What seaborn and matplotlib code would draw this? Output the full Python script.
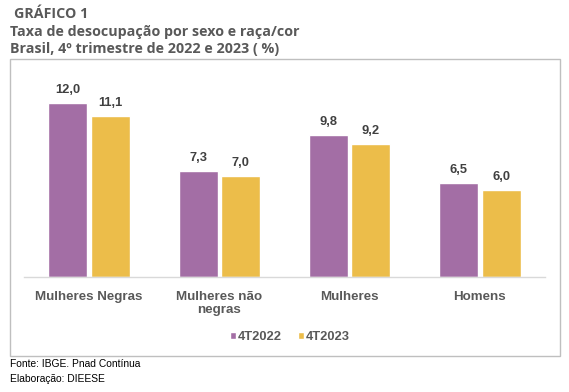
import pandas as pd
import matplotlib
matplotlib.use('Agg')
import matplotlib.pyplot as plt
import seaborn as sns
from matplotlib.patches import Rectangle, Patch

sns.set_theme(style='white')
plt.rcParams['font.family'] = ['Liberation Sans', 'DejaVu Sans']

# data
categorias = ['Mulheres Negras', 'Mulheres não\nnegras', 'Mulheres', 'Homens']
taxa_2022 = [12.0, 7.3, 9.8, 6.5]
taxa_2023 = [11.1, 7.0, 9.2, 6.0]
periodos = ['4T2022', '4T2023']
cores = ['#A36EA5', '#ECBD4A']

df = pd.DataFrame({
    'categoria': categorias * 2,
    'periodo': [periodos[0]] * 4 + [periodos[1]] * 4,
    'taxa': taxa_2022 + taxa_2023,
})

fig = plt.figure(figsize=(5.69, 3.92), dpi=100)
ax = fig.add_axes([24 / 569, 1 - 277 / 392, 521 / 569, 203 / 392])

sns.barplot(data=df, x='categoria', y='taxa', hue='periodo', palette=cores,
            saturation=1, width=0.65, gap=0.08, ax=ax, legend=False)

for cont in ax.containers:
    ax.bar_label(cont, labels=[f'{v:.1f}'.replace('.', ',') for v in cont.datavalues],
                 padding=5, fontsize=9.3, fontweight='bold', color='#404040')

ax.set_ylim(0, 14)
ax.set_xlim(-0.5, 3.5)
ax.set_yticks([])
ax.set_xlabel('')
ax.set_ylabel('')
for s in ['top', 'left', 'right']:
    ax.spines[s].set_visible(False)
ax.spines['bottom'].set_color('#D9D9D9')
ax.spines['bottom'].set_linewidth(1)
ax.tick_params(axis='x', length=0, pad=10)
for lbl in ax.get_xticklabels():
    lbl.set_fontsize(9.6)
    lbl.set_fontweight('bold')
    lbl.set_color('#595959')
    lbl.set_linespacing(1.15)

# legenda
handles = [Patch(facecolor=c, label=p) for c, p in zip(cores, periodos)]
fig.legend(handles=handles, loc='center', bbox_to_anchor=(290 / 569, 1 - 337 / 392),
           ncol=2, frameon=False, handlelength=0.5, handleheight=0.5,
           handletextpad=0.15, columnspacing=1.2,
           prop={'size': 9.3, 'weight': 'bold'}, labelcolor='#595959')

# moldura
fig.patches.append(Rectangle((10 / 569, 1 - 356 / 392), 550 / 569, 297 / 392,
                             transform=fig.transFigure, fill=False,
                             edgecolor='#BFBFBF', linewidth=1))

# titulos
titulo = dict(family='Open Sans', fontweight='bold', fontsize=10.3,
              color='#595959', va='center')
fig.text(14 / 569, 1 - 14 / 392, 'GRÁFICO 1', **titulo)
fig.text(10 / 569, 1 - 32 / 392, 'Taxa de desocupação por sexo e raça/cor', **titulo)
fig.text(10 / 569, 1 - 49 / 392, 'Brasil, 4º trimestre de 2022 e 2023 ( %)', **titulo)

# fonte
fig.text(10 / 569, 1 - 364 / 392, 'Fonte: IBGE. Pnad Contínua', fontsize=7.4,
         color='#000000', va='center')
fig.text(10 / 569, 1 - 379 / 392, 'Elaboração: DIEESE', fontsize=7.4,
         color='#000000', va='center')

fig.savefig('out.png', dpi=100)
